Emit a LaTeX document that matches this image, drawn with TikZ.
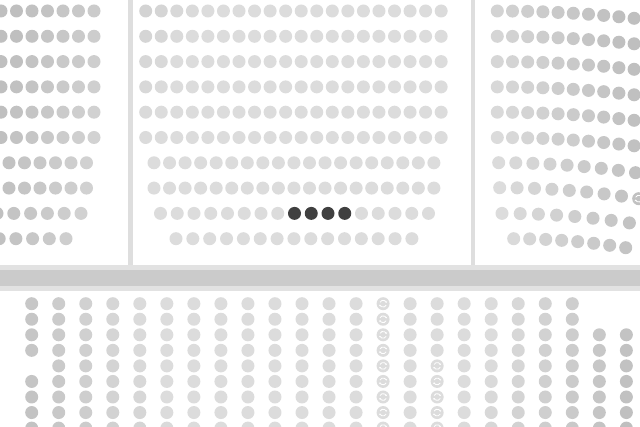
\documentclass[tikz,border=0pt]{standalone}
\usepackage{xcolor}
\usepackage{tikz}
\usetikzlibrary{arrows.meta,calc}
\definecolor{seatgray}{HTML}{DCDCDC}
\definecolor{seatshade}{HTML}{BFBFBF}
\definecolor{seattaken}{HTML}{404040}
\definecolor{bgshade}{HTML}{DDDDDD}
\definecolor{wallgray}{HTML}{DEDEDE}
\definecolor{bandgray}{HTML}{CBCBCB}
\definecolor{bandedge}{HTML}{E2E2E2}
\pgfdeclareradialshading{vignette}{\pgfpoint{0bp}{0bp}}{color(0bp)=(white); color(27.5bp)=(white); color(50bp)=(bgshade); color(80bp)=(bgshade)}
\tikzset{
  seat/.style={draw=none},
  taken/.style={fill=seattaken},
  seaticon/.style={white,line width=0.8pt,-{Stealth[length=1.4pt,width=2.4pt]}},
  divider/.style={fill=wallgray},
  band/.style={fill=bandgray},
}
\newcommand\placeseat[3][]{%
  \pgfmathsetmacro\seatx{#2}%
  \pgfmathsetmacro\seaty{#3}%
  \pgfmathsetmacro\seatdx{(\seatx-320)/330}%
  \pgfmathsetmacro\seatdy{(\seaty-240)/520}%
  \pgfmathsetmacro\seatpct{max(0,min(100,(sqrt(\seatdx*\seatdx+\seatdy*\seatdy)-0.55)*222.2))}%
  \fill[seat,seatshade!\seatpct!seatgray,#1] (\seatx,\seaty) circle[radius=6.5];
}
\newcommand\placeicon[2]{%
  \placeseat{#1}{#2}%
  \draw[seaticon] ($(\seatx,\seaty)+(25:3.4)$) arc[start angle=25,end angle=165,radius=3.4];
  \draw[seaticon] ($(\seatx,\seaty)+(205:3.4)$) arc[start angle=205,end angle=345,radius=3.4];
}

\begin{document}
\begin{tikzpicture}[x=1pt,y=-1pt]
\useasboundingbox (0,0) rectangle (640,427);
\clip (0,0) rectangle (640,427);
\shade[shading=vignette] (-10,-280) rectangle (650,760);

% walls between blocks
\fill[divider] (128,0) rectangle (132.5,265);
\fill[divider] (470.5,0) rectangle (475,265);
\fill[bandedge] (0,265) rectangle (640,291);
\fill[band] (0,270) rectangle (640,286);

% left block
\foreach \r in {0,...,5}
  \foreach \c in {0,...,6}
    \placeseat{1+15.5*\c}{11+25.3*\r};
\foreach \r in {6,7}
  \foreach \c in {0,...,5}
    \placeseat{9+15.5*\c}{11+25.3*\r};
\foreach \c in {0,...,5}
  \placeseat{81-16.8*\c}{213.4};
\foreach \c in {0,...,4}
  \placeseat{66-16.7*\c}{238.7};

% centre block
\foreach \r in {0,...,5}
  \foreach \c in {0,...,19}
    \placeseat{145.7+15.55*\c}{11+25.3*\r};
\foreach \r in {6,7}
  \foreach \c in {0,...,18}
    \placeseat{154+15.55*\c}{11+25.3*\r};
\foreach \c in {0,1,2,3,4,5,6,7,12,13,14,15,16}
  \placeseat{160.5+16.75*\c}{213.4};
\foreach \c in {8,...,11}
  \placeseat[taken]{160.5+16.75*\c}{213.4};
\foreach \c in {0,...,14}
  \placeseat{176+16.85*\c}{238.7};

% right block
\foreach \r in {0,...,5}
  \foreach \c in {0,...,9}
    \placeseat{497.3+15.2*\c}{11+25.3*\r+(7.3+0.2*\r)*(\c/9)^2};
\foreach \c in {0,...,8}
  \placeseat{498.7+17.1*\c}{162.7+10*(\c/8)^2};
\foreach \c in {0,...,7}
  \placeseat{499.7+17.4*\c}{187.7+11*(\c/8)^2};
\placeicon{638.7}{198.7}
\foreach \c in {0,...,7}
  \placeseat{502+18.2*\c}{213.4+9.5*(\c/7)^2};
\foreach \c in {0,...,7}
  \placeseat{513.7+16*\c}{238.7+9*(\c/7)^2};

% lower block
\foreach \c in {1,2,3,4,5,6,7,8,9,10,11,12,14,16,17,18,19,20}
  \foreach \r in {0,...,8}
    \placeseat{31.7+27.03*\c}{303.7+15.55*\r};
\foreach \r in {0,1,2,3,5,6,7,8}
  \placeseat{31.7}{303.7+15.55*\r};
\foreach \r in {0,...,8}
  \placeicon{31.7+27.03*13}{303.7+15.55*\r};
\foreach \r in {0,...,3}
  \placeseat{31.7+27.03*15}{303.7+15.55*\r};
\foreach \r in {4,...,8}
  \placeicon{31.7+27.03*15}{303.7+15.55*\r};
\foreach \c in {21,22}
  \foreach \r in {2,...,8}
    \placeseat{31.7+27.03*\c}{303.7+15.55*\r};
\end{tikzpicture}
\end{document}
